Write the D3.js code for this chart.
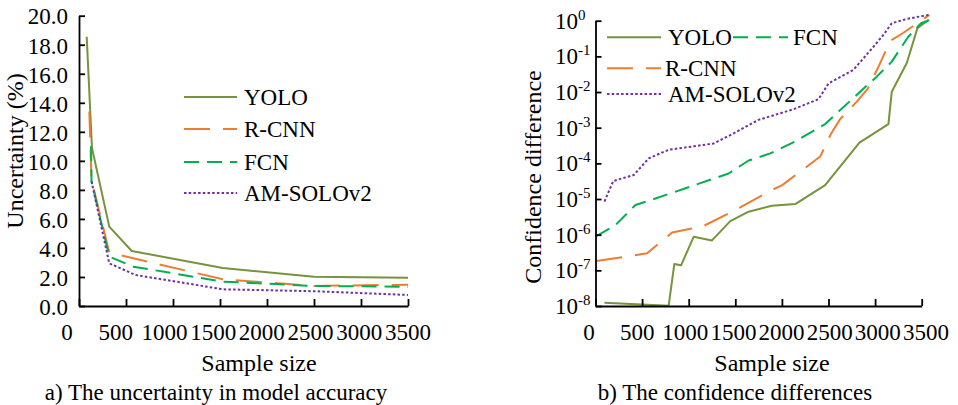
<!DOCTYPE html>
<html><head><meta charset="utf-8">
<script src="https://cdn.jsdelivr.net/npm/d3@7"></script>
<style>
body{margin:0;background:#fff}
svg text{font-family:"Liberation Serif","Times New Roman",Times,"DejaVu Serif",serif !important;fill:#000}
</style>
</head><body>
<svg id="c" width="958" height="405" font-family="Liberation Serif, Times New Roman, serif"></svg>
<script>
// ---------- data ----------
const seriesNames = ["YOLO","R-CNN","FCN","AM-SOLOv2"];
const xTicks = [0,500,1000,1500,2000,2500,3000,3500];
const uncTicks = [0,2,4,6,8,10,12,14,16,18,20];
const confTicks = [1e-8,1e-7,1e-6,1e-5,1e-4,1e-3,1e-2,1e-1,1];
const confTickExp = ["-8","-7","-6","-5","-4","-3","-2","-1","0"];

// a) uncertainty (%)
const uncYoloX = [82,138,322,561,1530,2500,3500];
const uncYoloY = [18.55,10.88,5.47,3.79,2.62,2.02,1.95];
const uncRcnnX = [110,133,322,1530,2500,3500];
const uncRcnnY = [13.4,8.7,3.68,1.84,1.38,1.47];
const uncFcnX = [128,133,322,578,1530,2500,3500];
const uncFcnY = [11.0,8.6,3.4,2.71,1.68,1.38,1.33];
const uncAmX = [133,322,600,1530,2500,3500];
const uncAmY = [8.6,2.94,2.14,1.15,1.02,0.76];

// b) confidence difference
const confYoloX = [96,785,846,918,1053,1250,1446,1643,1893,2143,2464,2832,3143,3179,3340,3454,3572];
const confYoloY = [1.23e-8,1.02e-8,1.51e-7,1.38e-7,8.7e-7,6.9e-7,2.4e-6,4.4e-6,6.5e-6,7.2e-6,2.45e-5,3.8e-4,1.26e-3,1.02e-2,6.5e-2,0.62,1.05];
const confRcnnX = [10,554,822,1157,1500,1875,2004,2411,2529,2625,2804,2918,3046,3161,3304,3582];
const confRcnnY = [1.82e-7,3.0e-7,1.15e-6,1.74e-6,4.9e-6,1.7e-5,2.45e-5,1.55e-4,6.9e-4,1.74e-3,5.4e-3,1.2e-2,5.75e-2,0.27,0.46,1.45];
const confFcnX = [10,214,429,571,1428,1643,1875,2143,2464,2839,3018,3179,3354,3493,3589];
const confFcnY = [9.1e-7,1.86e-6,6.8e-6,8.9e-6,5.2e-5,1.2e-4,1.9e-4,4.1e-4,1.26e-3,1.02e-2,2.7e-2,7.1e-2,0.35,0.85,1.05];
const confAmX = [96,190,410,571,785,1267,1482,1750,2125,2393,2500,2768,2982,3089,3179,3340,3571];
const confAmY = [8.5e-6,3.2e-5,4.7e-5,1.38e-4,2.4e-4,3.6e-4,6.9e-4,1.66e-3,3.3e-3,6.3e-3,1.74e-2,4.2e-2,0.186,0.4,0.85,1.12,1.45];

// ---------- styles ----------
const colors = ["#77933C","#ED7D31","#00B050","#7030A0"];
const dashes = [null,"26,13","15,8","2.5,2.2"];
const FS = 23;
const FONT = "Liberation Serif, Times New Roman, serif";

const svg = d3.select("#c");
const zip = (xs,ys)=>xs.map((x,i)=>[x,ys[i]]);

function drawLines(g, sx, sy, data){
  const line = d3.line().x(d=>sx(d[0])).y(d=>sy(d[1]));
  data.forEach((d,i)=>{
    g.append("path").attr("d",line(d)).attr("fill","none")
      .attr("stroke",colors[i]).attr("stroke-width",2)
      .attr("stroke-dasharray",dashes[i]).attr("stroke-linejoin","round");
  });
}
function legendItem(x1,x2,y,tx,i){
  svg.append("line").attr("x1",x1).attr("x2",x2).attr("y1",y).attr("y2",y)
    .attr("stroke",colors[i]).attr("stroke-width",2).attr("stroke-dasharray",dashes[i]);
  svg.append("text").attr("x",tx).attr("y",y+7.5).attr("font-size",FS).text(seriesNames[i]);
}
function styleAxis(g){
  g.attr("font-family",FONT);
  g.select(".domain").attr("stroke","#000").attr("stroke-width",1.8);
  g.selectAll(".tick line").attr("stroke","#000").attr("stroke-width",1.8);
}

// ---------- chart a ----------
const xa = d3.scaleLinear([0,3500],[79,408]);
const xaLab = d3.scaleLinear([0,3500],[67,408]);
const ya = d3.scaleLinear([0,20],[306,15.7]);

drawLines(svg, xa, ya, [zip(uncYoloX,uncYoloY),zip(uncRcnnX,uncRcnnY),zip(uncFcnX,uncFcnY),zip(uncAmX,uncAmY)]);

const gxa = svg.append("g").attr("transform","translate(0,306)")
  .call(d3.axisBottom(xa).tickValues(xTicks).tickSizeInner(-7).tickSizeOuter(0).tickFormat(""));
styleAxis(gxa);
const gya = svg.append("g").attr("transform","translate(79,0)")
  .call(d3.axisLeft(ya).tickValues(uncTicks).tickSizeInner(-6).tickSizeOuter(0).tickPadding(11).tickFormat(d3.format(".1f")));
styleAxis(gya);
gya.selectAll(".tick text").attr("font-size",FS).attr("fill","#000").attr("dy","0.36em");
svg.append("g").selectAll("text").data(xTicks).join("text")
  .attr("x",d=>xaLab(d)).attr("y",339.5).attr("text-anchor","middle").attr("font-size",FS).text(d=>d);

svg.append("text").attr("transform","translate(15,151) rotate(-90)").attr("text-anchor","middle")
  .attr("dominant-baseline","central").attr("font-size",24).text("Uncertainty (%)");
svg.append("text").attr("x",259).attr("y",371).attr("text-anchor","middle").attr("font-size",24).text("Sample size");
svg.append("text").attr("x",216).attr("y",400).attr("text-anchor","middle").attr("font-size",FS).text("a) The uncertainty in model accuracy");

[97,129,162,193].forEach((y,i)=>legendItem(184,237,y,244,i));

// ---------- chart b ----------
const xb = d3.scaleLinear([0,3500],[595.5,921.7]);
const xbLab = d3.scaleLinear([0,3500],[589,926]);
const yb = d3.scaleLog([1e-8,1],[306,20.7]);

drawLines(svg, xb, yb, [zip(confYoloX,confYoloY),zip(confRcnnX,confRcnnY),zip(confFcnX,confFcnY),zip(confAmX,confAmY)]);

const gxb = svg.append("g").attr("transform","translate(0,306)")
  .call(d3.axisBottom(xb).tickValues(xTicks).tickSizeInner(-7).tickSizeOuter(0).tickFormat(""));
styleAxis(gxb);
const gyb = svg.append("g").attr("transform","translate(595.5,0)")
  .call(d3.axisLeft(yb).tickValues(confTicks).tickSizeInner(-6).tickSizeOuter(0).tickFormat(""));
styleAxis(gyb);
svg.append("g").selectAll("text").data(xTicks).join("text")
  .attr("x",d=>xbLab(d)).attr("y",339.5).attr("text-anchor","middle").attr("font-size",FS).text(d=>d);
const yl = svg.append("g").selectAll("text").data(confTicks).join("text")
  .attr("x",555).attr("y",d=>yb(d)+8).attr("font-size",FS);
yl.append("tspan").text("10");
yl.append("tspan").attr("font-size",15).attr("dy",-9).text((d,i)=>confTickExp[i]);

svg.append("text").attr("transform","translate(533,177) rotate(-90)").attr("text-anchor","middle")
  .attr("dominant-baseline","central").attr("font-size",24).text("Confidence difference");
svg.append("text").attr("x",772).attr("y",371).attr("text-anchor","middle").attr("font-size",24).text("Sample size");
svg.append("text").attr("x",735).attr("y",400).attr("text-anchor","middle").attr("font-size",FS).text("b) The confidence differences");

legendItem(607,661,37.3,668,0);
legendItem(733,788,37.3,793,2);
legendItem(607,661,68.3,665,1);
legendItem(607,661,94,668,3);
</script>
</body></html>
